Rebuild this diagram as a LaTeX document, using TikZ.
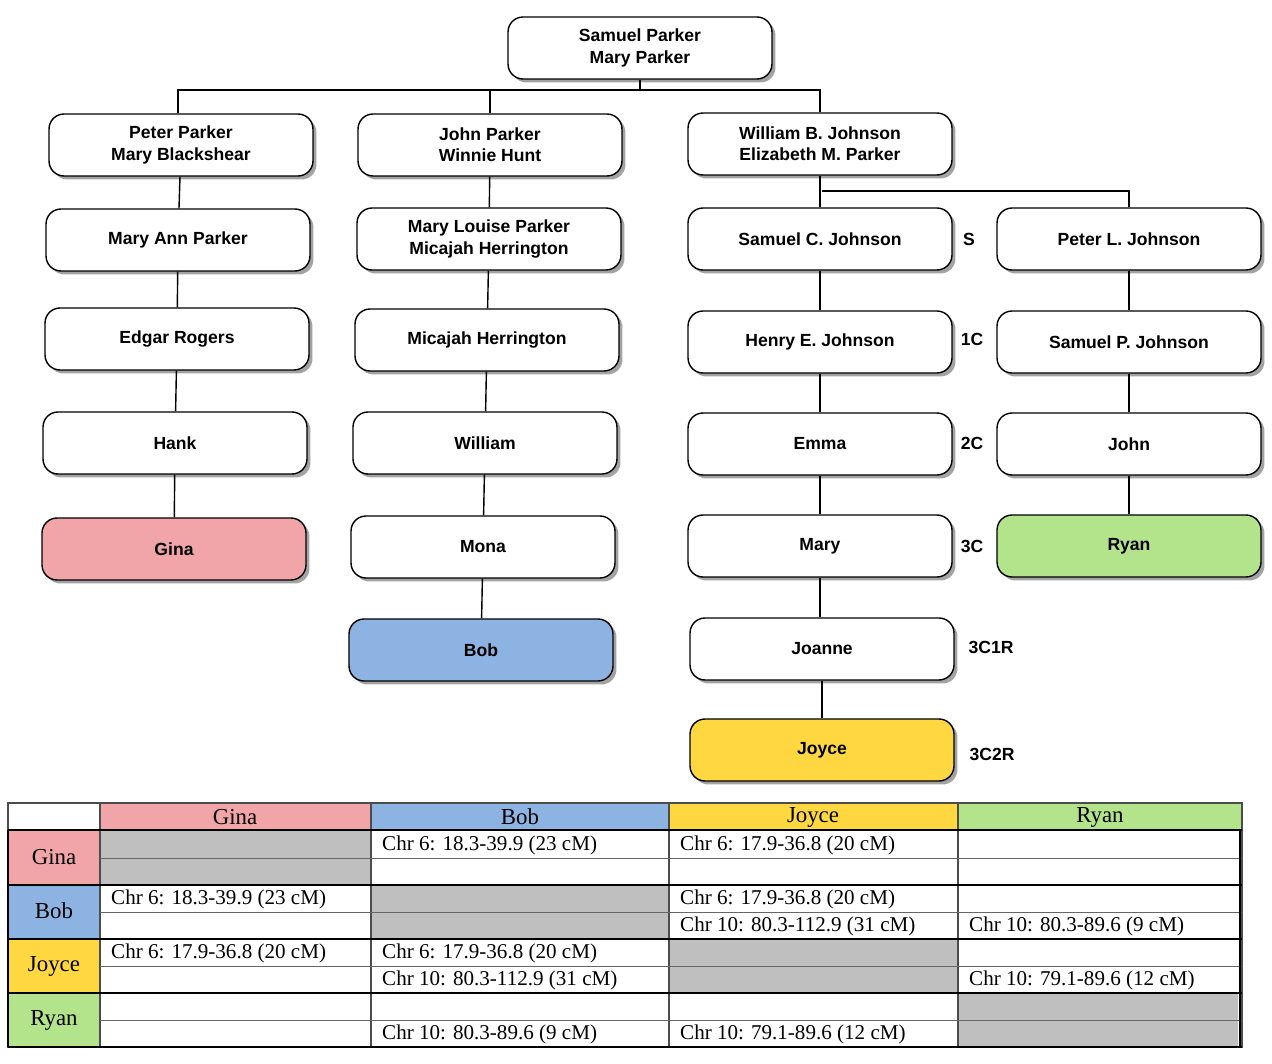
\documentclass[tikz,border=0pt]{standalone}
\usepackage{fontspec}
\setmainfont{Liberation Sans}
\newfontfamily\tabfont{Liberation Serif}
\usetikzlibrary{shadows}
\definecolor{cpink}{HTML}{F2A5A8}
\definecolor{cblue}{HTML}{8DB3E2}
\definecolor{cyel}{HTML}{FFD740}
\definecolor{cgreen}{HTML}{B3E38B}
\definecolor{cgray}{HTML}{BFBFBF}
\tikzset{
 box/.style={draw=black, line width=0.8pt, rounded corners=0.3cm, fill=white, minimum width=5.28cm, minimum height=1.24cm, align=center, font=\fontsize{10}{12}\selectfont\bfseries, inner sep=2pt,
   drop shadow={shadow xshift=0.07cm, shadow yshift=-0.07cm, fill=black!45, opacity=0.8}},
 lbl/.style={font=\fontsize{10}{12}\selectfont\bfseries},
 ln/.style={line width=0.8pt},
 cell/.style={font=\tabfont\fontsize{12}{14}\selectfont, anchor=west},
 hd/.style={font=\tabfont\fontsize{13}{15}\selectfont},
}
\newcommand{\bx}[5][white]{\node[box, fill=#1] (#2) at (#3,#4) {#5};}
\begin{document}
\begin{tikzpicture}[x=0.02cm,y=-0.02cm]
\useasboundingbox (0,0) rectangle (1272,1064);
% tree
\bx{sp}{640}{48}{Samuel Parker\\Mary Parker}
\bx{pp}{181}{145}{Peter Parker\\Mary Blackshear}
\bx{map}{178}{240}{Mary Ann Parker}
\bx{er}{177}{339}{Edgar Rogers}
\bx{hank}{175}{443}{Hank}
\bx[cpink]{gina}{174}{549}{Gina}
\bx{jp}{490}{145}{John Parker\\Winnie Hunt}
\bx{mlp}{489}{239}{Mary Louise Parker\\Micajah Herrington}
\bx{mh}{487}{340}{Micajah Herrington}
\bx{wil}{485}{443}{William}
\bx{mona}{483}{547}{Mona}
\bx[cblue]{bob}{481}{650}{Bob}
\bx{wbj}{820}{144}{William B. Johnson\\Elizabeth M. Parker}
\bx{scj}{820}{239}{Samuel C. Johnson}
\bx{hej}{820}{342}{Henry E. Johnson}
\bx{emma}{820}{444}{Emma}
\bx{mary}{820}{546}{Mary}
\bx{jo}{822}{649}{Joanne}
\bx[cyel]{joyce}{822}{750}{Joyce}
\bx{plj}{1129}{239}{Peter L. Johnson}
\bx{spj}{1129}{342}{Samuel P. Johnson}
\bx{john}{1129}{444}{John}
\bx[cgreen]{ryan}{1129}{546}{Ryan}
\node[lbl] (l0) at (969,239) {S};
\node[lbl] (l1) at (972,339) {1C};
\node[lbl] (l2) at (972,443) {2C};
\node[lbl] (l3) at (972,546) {3C};
\node[lbl] (l4) at (991,647) {3C1R};
\node[lbl] (l5) at (992,754) {3C2R};
% connectors
\coordinate (bus) at (640,90);
\draw[ln] (sp.south) -- (bus);
\draw[ln] (pp.north -| 178,0) |- (bus) -| (wbj.north);
\draw[ln] (bus -| jp.north) -- (jp.north);
\draw[ln] (pp) -- (map); \draw[ln] (map) -- (er); \draw[ln] (er) -- (hank); \draw[ln] (hank) -- (gina);
\draw[ln] (jp) -- (mlp); \draw[ln] (mlp) -- (mh); \draw[ln] (mh) -- (wil); \draw[ln] (wil) -- (mona); \draw[ln] (mona) -- (bob);
\draw[ln] (wbj) -- (scj); \draw[ln] (scj) -- (hej); \draw[ln] (hej) -- (emma); \draw[ln] (emma) -- (mary); \draw[ln] (mary.south) -- (jo.north -| mary.south); \draw[ln] (jo) -- (joyce);
\coordinate (bus2) at (822,191);
\draw[ln] (bus2) -| (plj.north);
\draw[ln] (plj) -- (spj); \draw[ln] (spj) -- (john); \draw[ln] (john) -- (ryan);
% table
\fill[cpink] (100,803) rectangle (371,830);
\fill[cblue] (371,803) rectangle (669,830);
\fill[cyel] (669,803) rectangle (958,830);
\fill[cgreen] (958,803) rectangle (1242,830);
\fill[cpink] (8,830) rectangle (100,885);
\fill[cblue] (8,885) rectangle (100,939);
\fill[cyel] (8,939) rectangle (100,993);
\fill[cgreen] (8,993) rectangle (100,1047);
\fill[cgray] (100,830) rectangle (371,885);
\fill[cgray] (371,885) rectangle (669,939);
\fill[cgray] (669,939) rectangle (958,993);
\fill[cgray] (958,993) rectangle (1238,1047);
\draw[black!70, line width=0.6pt] (8,803) rectangle (1242,1047);
\foreach \x in {100,371,669,958} \draw[black!70, line width=0.6pt] (\x,803) -- (\x,1047);
\foreach \y in {858,912,966,1020} \draw[black!60, line width=0.5pt] (100,\y) -- (1242,\y);
\foreach \y in {830,885,939,993,1047} \draw[black, line width=1.6pt] (8,\y) -- (1242,\y);
\draw[black, line width=1.6pt] (8,830) -- (8,1047);
\draw[black, line width=1.6pt] (1240,830) -- (1240,1047);
\node[hd] (h1) at (235,817) {Gina};
\node[hd] (h2) at (520,817) {Bob};
\node[hd] (h3) at (813,817) {Joyce};
\node[hd] (h4) at (1100,817) {Ryan};
\node[hd] (r1) at (54,857) {Gina};
\node[hd] (r2) at (54,911) {Bob};
\node[hd] (r3) at (54,966) {Joyce};
\node[hd] (r4) at (54,1020) {Ryan};
\node[cell] (c1) at (376,845) {Chr 6: 18.3-39.9 (23 cM)};
\node[cell] (c2) at (674,845) {Chr 6: 17.9-36.8 (20 cM)};
\node[cell] (c3) at (105,899) {Chr 6: 18.3-39.9 (23 cM)};
\node[cell] (c4) at (674,899) {Chr 6: 17.9-36.8 (20 cM)};
\node[cell] (c5) at (674,926) {Chr 10: 80.3-112.9 (31 cM)};
\node[cell] (c6) at (963,926) {Chr 10: 80.3-89.6 (9 cM)};
\node[cell] (c7) at (105,953) {Chr 6: 17.9-36.8 (20 cM)};
\node[cell] (c8) at (376,953) {Chr 6: 17.9-36.8 (20 cM)};
\node[cell] (c9) at (376,980) {Chr 10: 80.3-112.9 (31 cM)};
\node[cell] (c10) at (963,980) {Chr 10: 79.1-89.6 (12 cM)};
\node[cell] (c11) at (376,1034) {Chr 10: 80.3-89.6 (9 cM)};
\node[cell] (c12) at (674,1034) {Chr 10: 79.1-89.6 (12 cM)};
\end{tikzpicture}
\end{document}
